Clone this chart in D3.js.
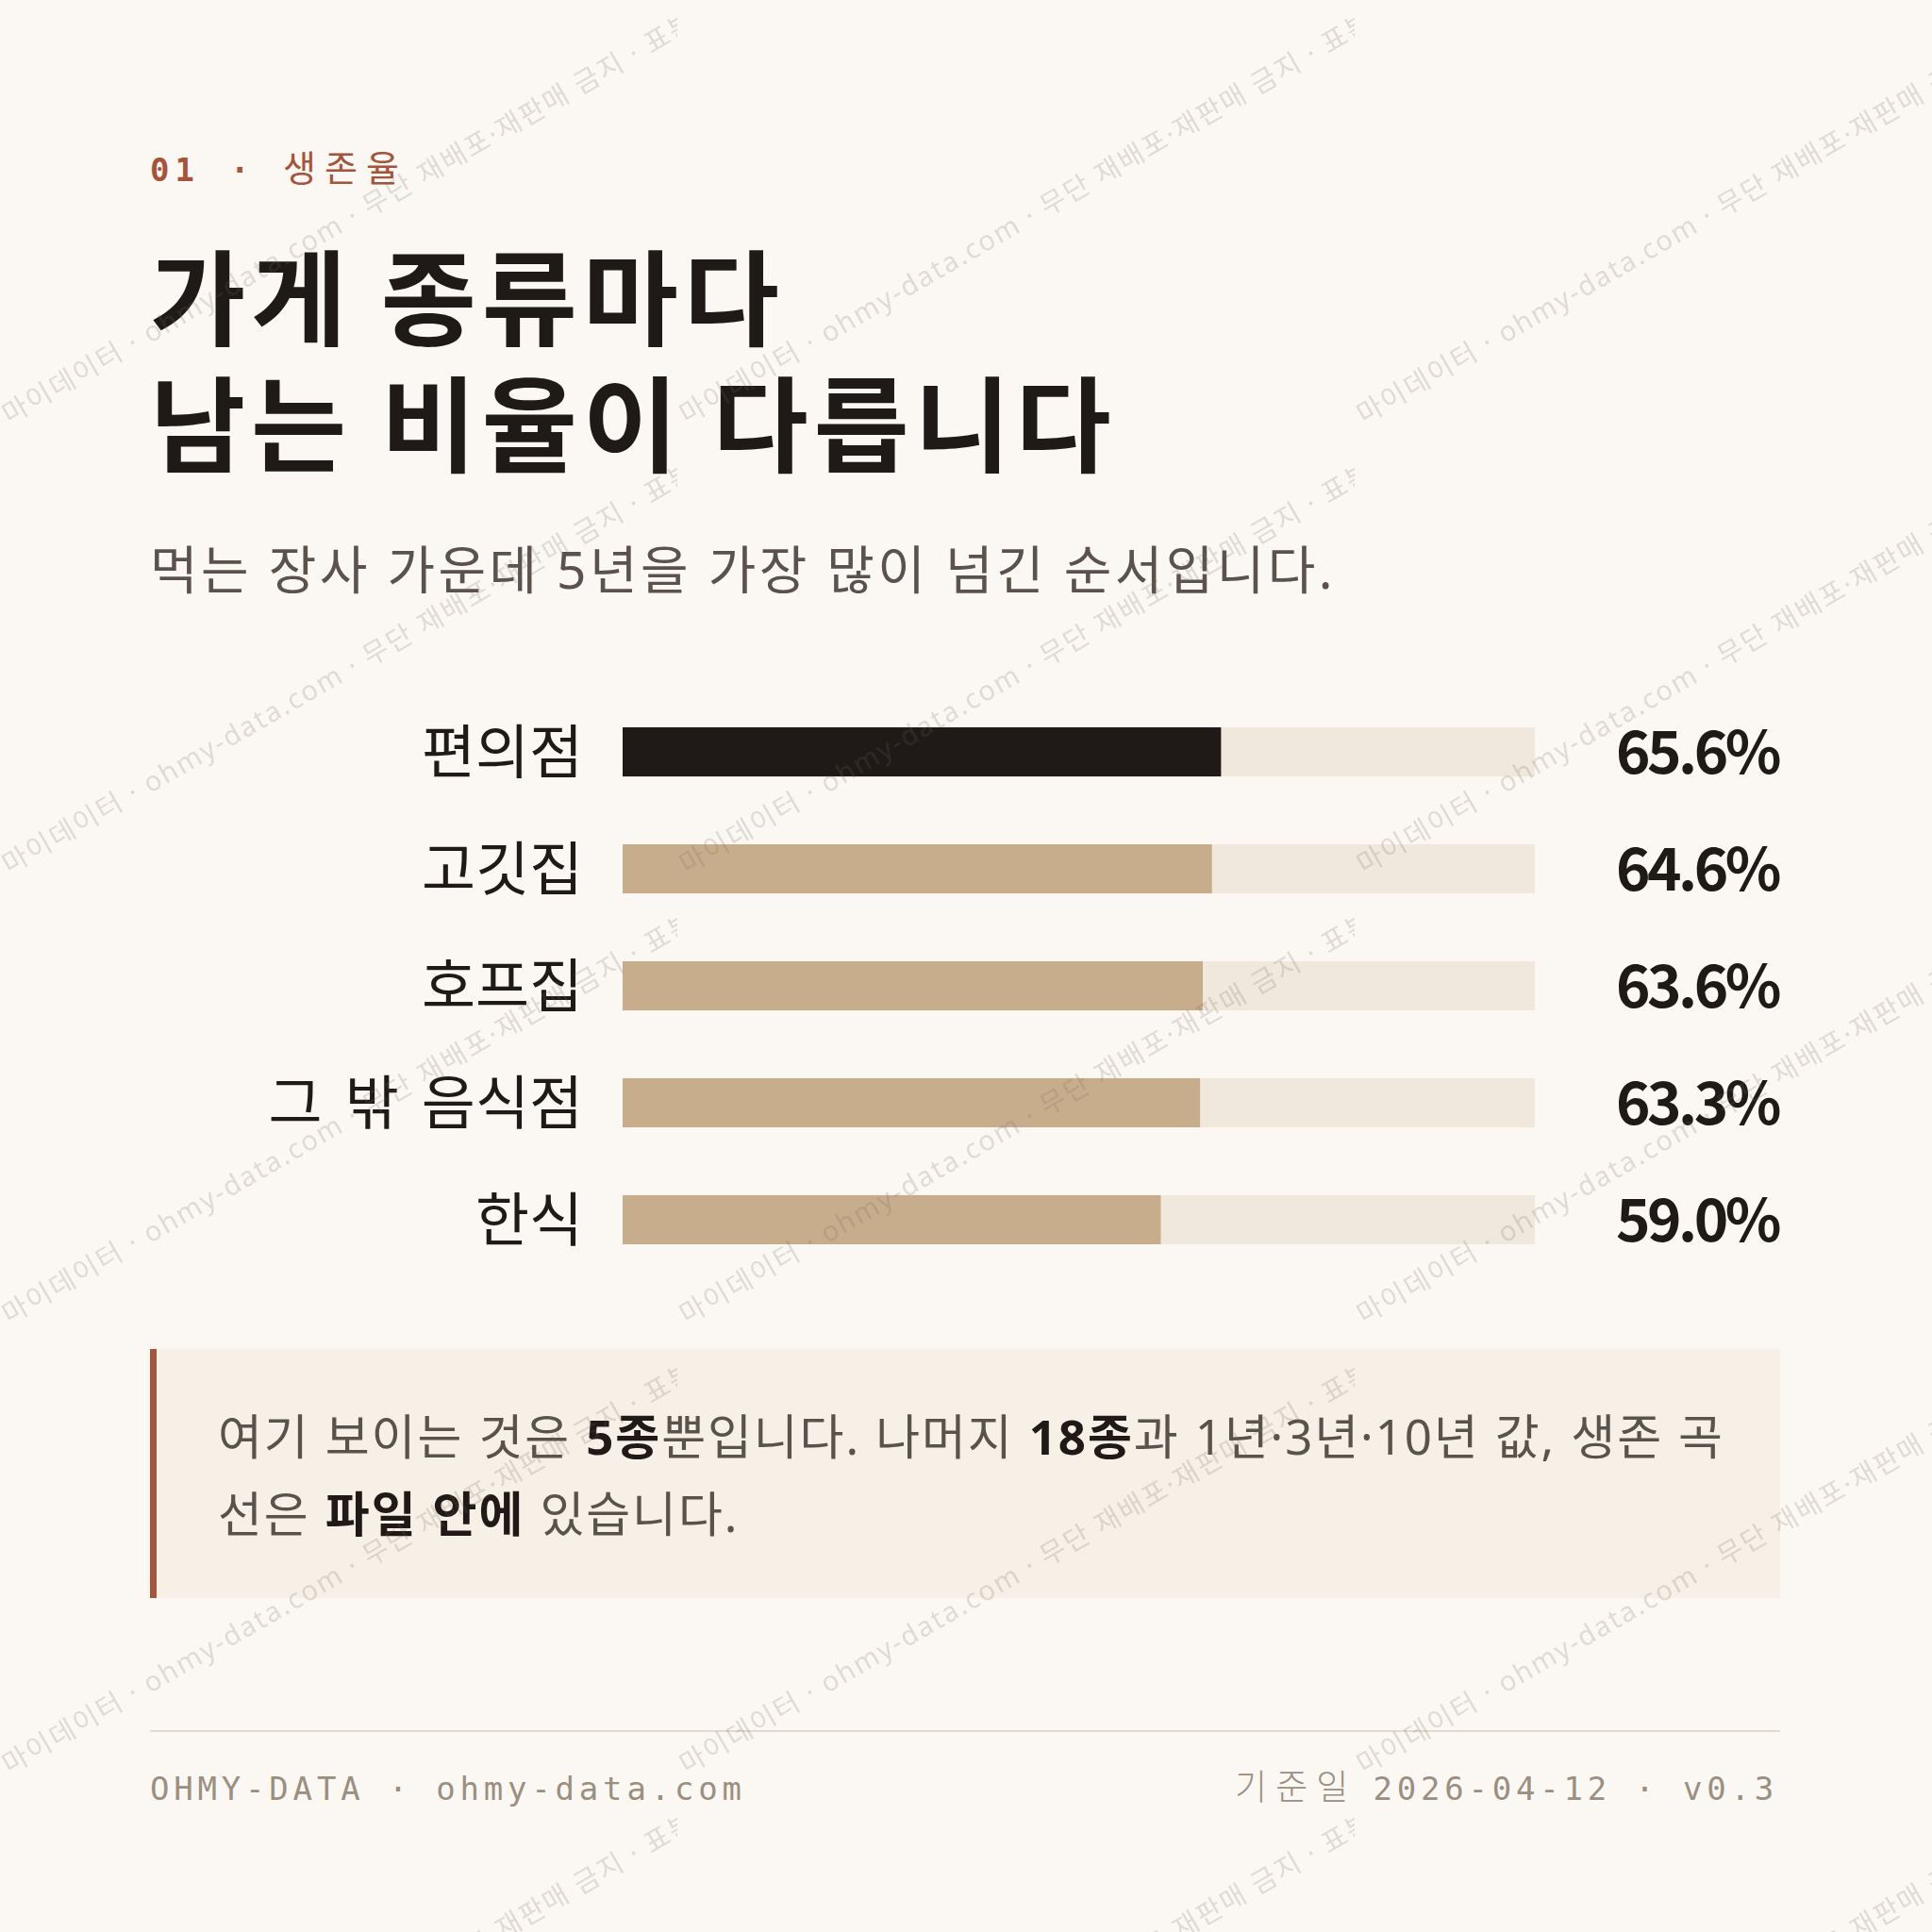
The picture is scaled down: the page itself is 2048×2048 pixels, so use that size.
<!DOCTYPE html>
<html>
<head>
  <meta charset="UTF-8" />
  <title>생존율</title>
  <script src="https://d3js.org/d3.v7.min.js"></script>
  <style>
    body { margin: 0; background: #fbf8f3; }
    svg { display: block; }
  </style>
</head>
<body>
  <div id="chart"></div>

  <script>
    // 5년 생존율 (%)
    const categories = ["편의점", "고깃집", "호프집", "그 밖 음식점", "한식"];
    const survival5y = [65.6, 64.6, 63.6, 63.3, 59.0];
    const axisDomain = [0, 100];

    const W = 2048, H = 2048;
    const KR = "'Noto Sans CJK KR', 'Noto Sans', sans-serif";
    const SANS = "'Noto Sans', 'Noto Sans CJK KR', sans-serif";
    const MONO = "'DejaVu Sans Mono', 'Liberation Mono', monospace";

    const svg = d3.select("#chart")
      .append("svg")
      .attr("width", W)
      .attr("height", H);

    const defs = svg.append("defs");

    svg.append("rect")
      .attr("width", W)
      .attr("height", H)
      .attr("fill", "#fbf8f3");

    // kicker
    const kicker = svg.append("text")
      .attr("y", 192)
      .attr("fill", "#a5533a");
    kicker.append("tspan")
      .attr("x", 159)
      .attr("font-family", MONO)
      .attr("font-weight", 700)
      .attr("font-size", 34)
      .attr("letter-spacing", 6)
      .text("01");
    kicker.append("tspan")
      .attr("x", 244)
      .attr("font-family", MONO)
      .attr("font-weight", 700)
      .attr("font-size", 34)
      .text("·");
    kicker.append("tspan")
      .attr("x", 300)
      .attr("font-family", KR)
      .attr("font-size", 38)
      .attr("letter-spacing", 9)
      .text("생존율");

    // title
    const title = svg.append("text")
      .attr("font-family", KR)
      .attr("font-weight", 700)
      .attr("font-size", 110)
      .attr("letter-spacing", 5.8)
      .attr("fill", "#1f1a17");
    title.append("tspan").attr("x", 159).attr("y", 358).text("가게 종류마다");
    title.append("tspan").attr("x", 159).attr("y", 492).text("남는 비율이 다릅니다");

    svg.append("text")
      .attr("x", 159)
      .attr("y", 624)
      .attr("font-family", SANS)
      .attr("font-weight", 400)
      .attr("font-size", 55)
      .attr("letter-spacing", 3.4)
      .attr("fill", "#5a524b")
      .text("먹는 장사 가운데 5년을 가장 많이 넘긴 순서입니다.");

    // bars
    const xScale = d3.scaleLinear()
      .domain(axisDomain)
      .range([660, 1627]);

    const yScale = d3.scaleBand()
      .domain(categories)
      .range([771, 1319])
      .paddingInner(0.58)
      .paddingOuter(0);

    const rows = categories.map((c, i) => ({ label: c, value: survival5y[i], i }));

    const g = svg.append("g");

    g.selectAll("rect.track")
      .data(rows)
      .enter()
      .append("rect")
      .attr("class", "track")
      .attr("x", xScale(axisDomain[0]))
      .attr("y", d => yScale(d.label))
      .attr("width", xScale(axisDomain[1]) - xScale(axisDomain[0]))
      .attr("height", yScale.bandwidth())
      .attr("fill", "#f0e8dc");

    g.selectAll("rect.bar")
      .data(rows)
      .enter()
      .append("rect")
      .attr("class", "bar")
      .attr("x", xScale(0))
      .attr("y", d => yScale(d.label))
      .attr("width", d => xScale(d.value) - xScale(0))
      .attr("height", yScale.bandwidth())
      .attr("fill", d => d.i === 0 ? "#1f1a17" : "#c8ad8c");

    g.selectAll("text.label")
      .data(rows)
      .enter()
      .append("text")
      .attr("class", "label")
      .attr("x", 618)
      .attr("y", d => yScale(d.label) + yScale.bandwidth() / 2)
      .attr("dy", "0.37em")
      .attr("text-anchor", "end")
      .attr("font-family", SANS)
      .attr("font-weight", 400)
      .attr("font-size", 62)
      .attr("word-spacing", 8)
      .attr("fill", "#1f1a17")
      .text(d => d.label);

    g.selectAll("text.value")
      .data(rows)
      .enter()
      .append("text")
      .attr("class", "value")
      .attr("x", 1885)
      .attr("y", d => yScale(d.label) + yScale.bandwidth() / 2)
      .attr("dy", "0.37em")
      .attr("text-anchor", "end")
      .attr("font-family", KR)
      .attr("font-weight", 700)
      .attr("font-size", 62)
      .attr("letter-spacing", -3.5)
      .attr("fill", "#1f1a17")
      .text(d => d3.format(".1f")(d.value) + "%");

    // note box
    svg.append("rect")
      .attr("x", 159)
      .attr("y", 1430)
      .attr("width", 1728)
      .attr("height", 264)
      .attr("fill", "#f7f0e6");
    svg.append("rect")
      .attr("x", 159)
      .attr("y", 1430)
      .attr("width", 7)
      .attr("height", 264)
      .attr("fill", "#a5533a");

    const noteLines = [
      [["여기 보이는 것은 ", 0], ["5종", 1], ["뿐입니다. 나머지 ", 0], ["18종", 1], ["과 1년·3년·10년 값, 생존 곡", 0]],
      [["선은 ", 0], ["파일 안에", 1], [" 있습니다.", 0]]
    ];
    noteLines.forEach((line, li) => {
      const t = svg.append("text")
        .attr("x", 231)
        .attr("y", 1542 + li * 82)
        .attr("font-family", SANS)
        .attr("font-size", 51)
        .attr("letter-spacing", 1.9)
        .attr("word-spacing", 1)
        .attr("xml:space", "preserve");
      line.forEach(([s, b]) => {
        t.append("tspan")
          .attr("font-weight", b ? 700 : 400)
          .attr("fill", b ? "#1f1a17" : "#5a524b")
          .text(s);
      });
    });

    // footer
    svg.append("line")
      .attr("x1", 159).attr("x2", 1887)
      .attr("y1", 1835).attr("y2", 1835)
      .attr("stroke", "#e3dacb")
      .attr("stroke-width", 2);

    svg.append("text")
      .attr("x", 159)
      .attr("y", 1908)
      .attr("font-family", MONO)
      .attr("font-size", 34)
      .attr("letter-spacing", 4.8)
      .attr("fill", "#9a8f80")
      .attr("xml:space", "preserve")
      .text("OHMY-DATA · ohmy-data.com");

    const fr = svg.append("text")
      .attr("x", 1885)
      .attr("y", 1908)
      .attr("text-anchor", "end")
      .attr("fill", "#9a8f80")
      .attr("xml:space", "preserve");
    fr.append("tspan").attr("font-family", KR).attr("font-weight", 300)
      .attr("font-size", 37).attr("letter-spacing", 9).text("기준일 ");
    fr.append("tspan").attr("font-family", MONO).attr("font-size", 34)
      .attr("letter-spacing", 4.8).text("2026-04-12 · v0.3");

    // watermark
    const pat = defs.append("pattern")
      .attr("id", "wm")
      .attr("patternUnits", "userSpaceOnUse")
      .attr("width", 718)
      .attr("height", 477);
    pat.append("text")
      .attr("transform", "translate(-7,460) rotate(-30)")
      .attr("font-family", SANS)
      .attr("font-size", 29)
      .attr("letter-spacing", 2)
      .attr("fill", "rgba(110,100,90,0.2)")
      .attr("xml:space", "preserve")
      .text("· 마이데이터 · ohmy-data.com · 무단 재배포·재판매 금지 · 표본");

    svg.append("rect")
      .attr("width", W)
      .attr("height", H)
      .attr("fill", "url(#wm)")
      .attr("pointer-events", "none");
  </script>
</body>
</html>
